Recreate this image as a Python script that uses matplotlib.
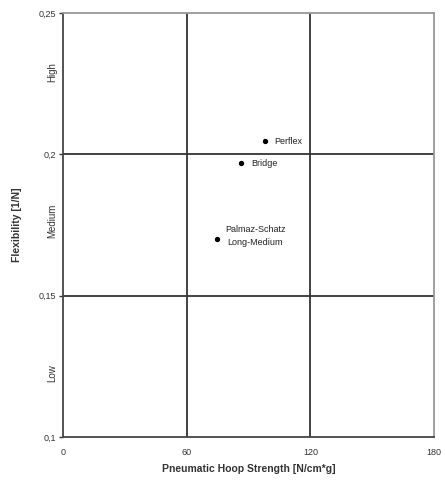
import matplotlib
matplotlib.use("Agg")
import matplotlib.pyplot as plt

# stent data
names = ["Perflex", "Bridge", "Palmaz-Schatz\nLong-Medium"]
hoop_strength = [98, 86.5, 74.5]
flexibility = [0.2046, 0.1968, 0.1700]

x_ticks = [0, 60, 120, 180]
y_ticks = [0.10, 0.15, 0.20, 0.25]
y_tick_labels = ["0,1", "0,15", "0,2", "0,25"]
zones = ["Low", "Medium", "High"]
zone_y = [0.1227, 0.1766, 0.229]

plt.rcParams["font.family"] = "Liberation Sans"

fig = plt.figure(figsize=(4.45, 4.8), dpi=100)
ax = fig.add_axes([0.1416, 0.0896, 0.8337, 0.8833])

ax.set_xlim(0, 180)
ax.set_ylim(0.10, 0.25)

for xv in x_ticks[1:-1]:
    ax.axvline(xv, color="#333333", lw=1.3, zorder=1)
for yv in y_ticks[1:-1]:
    ax.axhline(yv, color="#333333", lw=1.3, zorder=1)

ax.scatter(hoop_strength, flexibility, s=8, color="black", zorder=3)
offsets = [(7, 0), (7, 0), (6, 2)]
for name, xv, yv, off in zip(names, hoop_strength, flexibility, offsets):
    ax.annotate(name, (xv, yv), xytext=off, textcoords="offset points",
                ha="left", va="center", multialignment="center",
                fontsize=6.5, color="#222222", linespacing=1.6)

for z, zy in zip(zones, zone_y):
    ax.text(-0.028, zy, z, transform=ax.get_yaxis_transform(), rotation=90,
            ha="center", va="center", fontsize=7, color="#333333")

ax.set_xticks(x_ticks)
ax.set_yticks(y_ticks)
ax.set_yticklabels(y_tick_labels)
ax.tick_params(axis="x", length=0, pad=8, labelsize=6.5, colors="#333333")
ax.tick_params(axis="y", length=3, width=1, pad=2, labelsize=6.5, colors="#333333")

for side in ["left", "bottom"]:
    ax.spines[side].set_color("#444444")
    ax.spines[side].set_linewidth(1.3)
for side in ["top", "right"]:
    ax.spines[side].set_color("#999999")
    ax.spines[side].set_linewidth(1.3)

ax.set_xlabel("Pneumatic Hoop Strength [N/cm*g]", fontsize=7.5,
              fontweight="bold", color="#333333", labelpad=5)
ax.set_ylabel("Flexibility [1/N]", fontsize=7.5, fontweight="bold",
              color="#333333")
ax.yaxis.set_label_coords(-0.11, 0.5)

fig.savefig("out.png", dpi=100)
